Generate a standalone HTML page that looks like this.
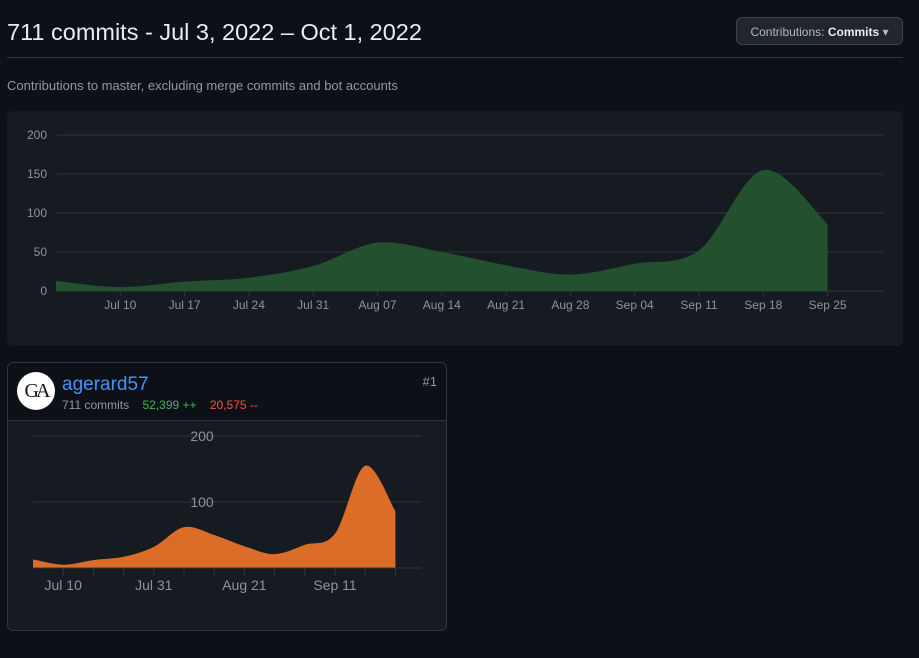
<!DOCTYPE html>
<html><head><meta charset="utf-8"><style>
body{margin:0;width:919px;height:658px;background:#0d1117;font-family:"Liberation Sans",sans-serif;position:relative;overflow:hidden}
.abs{position:absolute}
</style></head><body>
<div class="abs" style="left:7px;top:19px;font-size:23.5px;color:#e6edf3">711 commits - Jul 3, 2022 – Oct 1, 2022</div>
<div class="abs" style="left:736px;top:17px;width:167px;height:28px;border:1px solid #3d444d;border-radius:6px;background:#21262d;font-size:12px;color:#adbac7;line-height:28px;text-align:center;box-sizing:border-box">Contributions: <b style="color:#e6edf3">Commits</b> ▾</div>
<div class="abs" style="left:7px;top:57px;width:896px;height:1px;background:#30363d"></div>
<div class="abs" style="left:7px;top:78px;font-size:13px;color:#9198a1">Contributions to master, excluding merge commits and bot accounts</div>
<div class="abs" style="left:7px;top:111px;width:896px;height:235px;background:#161b22;border-radius:6px"></div>
<svg class="abs" style="left:0;top:0" width="919" height="658" id="svg"></svg>
<div class="abs" style="left:7px;top:362px;width:440px;height:269px;border:1px solid #30363d;border-radius:6px;background:#161b22;box-sizing:border-box;overflow:hidden">
 <div style="height:57px;background:#0d1117;border-bottom:1px solid #30363d;position:relative">
  <div style="position:absolute;left:9px;top:9px;width:38px;height:38px;border-radius:50%;background:#fff;color:#111;font-family:'Liberation Serif',serif;font-size:20px;line-height:38px;text-align:center;letter-spacing:-3px">GA</div>
  <div style="position:absolute;left:54px;top:11px;font-size:19px;color:#4493f8">agerard57</div>
  <div style="position:absolute;left:54px;top:35px;font-size:12px;color:#9198a1">711 commits <span style="color:#3fb950;margin-left:10px">52,399 ++</span> <span style="color:#f85149;margin-left:10px">20,575 --</span></div>
  <div style="position:absolute;right:9px;top:11px;font-size:13px;color:#9198a1">#1</div>
 </div>
</div>
<svg class="abs" style="left:0;top:0" width="919" height="658" id="svg2"></svg>
<script>
const weeks=["Jul 3","Jul 10","Jul 17","Jul 24","Jul 31","Aug 07","Aug 14","Aug 21","Aug 28","Sep 04","Sep 11","Sep 18","Sep 25"];
const commits=[13,5,12,17,32,62,50,33,21,35,52,155,86];
const yTicks=[0,50,100,150,200];
const smallYTicks=[100,200];
const smallLabels=["Jul 10","Jul 31","Aug 21","Sep 11"];
const NS="http://www.w3.org/2000/svg";
function mk(p,t,a){const e=document.createElementNS(NS,t);for(const k in a)e.setAttribute(k,a[k]);p.appendChild(e);return e;}
function smooth(pts){let d=`M${pts[0][0]},${pts[0][1]}`;for(let i=0;i<pts.length-1;i++){const p0=pts[i-1]||pts[i],p1=pts[i],p2=pts[i+1],p3=pts[i+2]||p2;d+=` C${p1[0]+(p2[0]-p0[0])/6},${p1[1]+(p2[1]-p0[1])/6} ${p2[0]-(p3[0]-p1[0])/6},${p2[1]-(p3[1]-p1[1])/6} ${p2[0]},${p2[1]}`;}return d;}
const s=document.getElementById('svg');
const x=i=>56+i*64.3, y=v=>291-v*0.78;
yTicks.forEach(t=>{const l=mk(s,'line',{x1:57,x2:883,y1:y(t),y2:y(t),stroke:'#30363d'});

const tx=mk(s,'text',{x:47,y:y(t)+4,'text-anchor':'end','font-size':12,fill:'#8b949e','font-family':'Liberation Sans'});tx.textContent=t;
});
const pts=commits.map((v,i)=>[x(i),y(v)]);
const a=mk(s,'path',{d:smooth(pts)+` L${x(commits.length-1)},${y(0)} L${x(0)},${y(0)} Z`,fill:'#23502e'});

weeks.forEach((w,i)=>{if(i==0)return;const tk=mk(s,'line',{x1:x(i),x2:x(i),y1:291,y2:296,stroke:'#30363d'});
const tx=mk(s,'text',{x:x(i),y:309,'text-anchor':'middle','font-size':12,fill:'#8b949e','font-family':'Liberation Sans'});tx.textContent=w;
});
const s2=document.getElementById('svg2');
const x2=i=>33+i*30.2, y2=v=>568-v*0.66;
smallYTicks.forEach(t=>{const l=mk(s2,'line',{x1:33,x2:421,y1:y2(t),y2:y2(t),stroke:'#30363d'});});
const a2=mk(s2,'path',{d:smooth(commits.map((v,i)=>[x2(i),y2(v)]))+` L${x2(12)},${y2(0)} L${x2(0)},${y2(0)} Z`,fill:'#db6d28'});

mk(s2,'line',{x1:33,x2:421,y1:568,y2:568,stroke:'#30363d'});
smallYTicks.forEach(t=>{const tx=mk(s2,'text',{x:202,y:y2(t)+5,'text-anchor':'middle','font-size':14,fill:'#8b949e','font-family':'Liberation Sans'});tx.textContent=t;
});
weeks.forEach((w,i)=>{if(i==0)return;const tk=mk(s2,'line',{x1:x2(i),x2:x2(i),y1:568,y2:576,stroke:'#30363d'});});
smallLabels.forEach(lb=>{const i=weeks.indexOf(lb);const tx=mk(s2,'text',{x:x2(i),y:590,'text-anchor':'middle','font-size':14,fill:'#8b949e','font-family':'Liberation Sans'});tx.textContent=lb;
});
</script>
</body></html>
